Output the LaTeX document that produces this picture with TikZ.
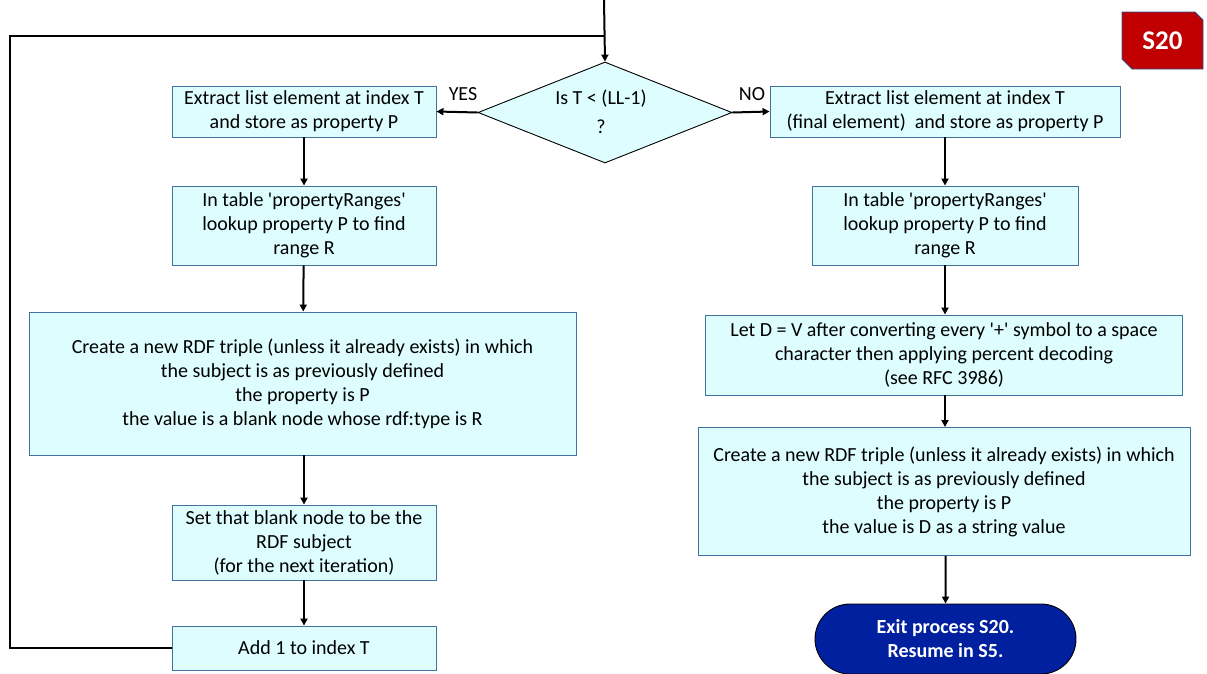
\documentclass[tikz,border=0pt]{standalone}
\usepackage{fontspec}
\setmainfont{Carlito}[Ligatures=TeXOff]
\usetikzlibrary{shapes.geometric,shapes.misc,arrows.meta}
\definecolor{boxfill}{HTML}{DDFDFF}
\definecolor{boxline}{HTML}{41719C}
\definecolor{termfill}{HTML}{00209F}
\definecolor{badgefill}{HTML}{C00000}
\definecolor{badgeline}{HTML}{2F528F}
\tikzset{
  procbox/.style={draw=boxline, fill=boxfill, line width=0.9pt, inner sep=0pt,
    align=center, font=\fontsize{20}{24}\selectfont},
  decbox/.style={draw=black, fill=boxfill, line width=0.9pt, diamond, inner sep=0pt},
  termbox/.style={draw=black, fill=termfill, line width=0.9pt, rounded rectangle,
    inner sep=0pt, align=center, text=white, font=\fontsize{20}{24}\selectfont\bfseries},
  flow/.style={draw=black, line width=2pt, -{Triangle[length=7pt,width=7pt]}},
  loopline/.style={draw=black, line width=2pt},
  lbl/.style={font=\fontsize{20}{29}\selectfont, inner sep=0pt}
}
\begin{document}
\begin{tikzpicture}[x=1pt,y=-1pt]
\useasboundingbox (0,0) rectangle (1207,673);

% decision
\node[decbox, minimum width=254pt, minimum height=101pt] (dec) at (605,112.5) {};
\node[lbl, align=center] (dectext) at (601,112) {Is T < (LL-1)\\?};
\node[lbl] (yes) at (463,94) {YES};
\node[lbl] (no) at (752,94) {NO};

% left branch
\node[procbox, minimum width=264pt, minimum height=51pt] (b1) at (304,111.5)
  {Extract list element at index T\\and store as property P};
\node[procbox, minimum width=264pt, minimum height=79pt] (b2) at (304,225.5)
  {In table 'propertyRanges'\\lookup property P to find\\range R};
\node[procbox, minimum width=547pt, minimum height=143pt] (b3) at (302.5,383.5)
  {Create a new RDF triple (unless it already exists) in which\\the subject is as previously defined\\the property is P\\the value is a blank node whose rdf:type is R};
\node[procbox, minimum width=264pt, minimum height=75pt] (b4) at (304,542.5)
  {Set that blank node to be the\\RDF subject\\(for the next iteration)};
\node[procbox, minimum width=264pt, minimum height=44pt] (b5) at (304,648)
  {Add 1 to index T};

% right branch
\node[procbox, minimum width=350pt, minimum height=51pt] (r1) at (945,111.5)
  {Extract list element at index T\\(final element)\ \ and store as property P};
\node[procbox, minimum width=266pt, minimum height=79pt] (r2) at (945,225.5)
  {In table 'propertyRanges'\\lookup property P to find\\range R};
\node[procbox, minimum width=477pt, minimum height=80pt] (r3) at (944,355)
  {Let D = V after converting every '+' symbol to a space\\character then applying percent decoding\\(see RFC 3986)};
\node[procbox, minimum width=492pt, minimum height=128pt] (r4) at (944,491.5)
  {Create a new RDF triple (unless it already exists) in which\\the subject is as previously defined\\the property is P\\the value is D as a string value};
\node[termbox, minimum width=261pt, minimum height=70pt] (term) at (945.5,639)
  {Exit process S20.\\Resume in S5.};

% badge with snipped corners
\path[fill=badgefill, draw=badgeline, line width=0.8pt]
  (1122,12) -- (1195,12) -- (1203,20) -- (1203,69) -- (1132,69) -- (1122,59) -- cycle;
\node[text=white, font=\fontsize{27}{30}\selectfont\bfseries, inner sep=0pt] (badge) at (1162.5,41) {S20};

% entry and loop-back
\coordinate (entry) at (604,0);
\coordinate (join) at (604,36);
\coordinate (loopbl) at (10,648);
\coordinate (looptl) at (10,36);
\draw[flow] (entry) -- (dec.north);
\draw[loopline] (b5.west) -- (loopbl) -- (looptl) -- (join);

% decision outcomes
\draw[flow] (dec.west) -- (b1.east);
\draw[flow] (dec.east) -- (r1.west);

% left chain
\draw[flow] (b1) -- (b2);
\draw[flow] (b2) -- (b3);
\draw[flow] (b3.south -| b4.north) -- (b4);
\draw[flow] (b4) -- (b5);

% right chain
\draw[flow] (r1) -- (r2);
\draw[flow] (r2) -- (r3.north -| r2.south);
\draw[flow] (r3.south -| r2.south) -- (r4.north -| r2.south);
\draw[flow] (r4.south -| term.north) -- (term);
\end{tikzpicture}
\end{document}
